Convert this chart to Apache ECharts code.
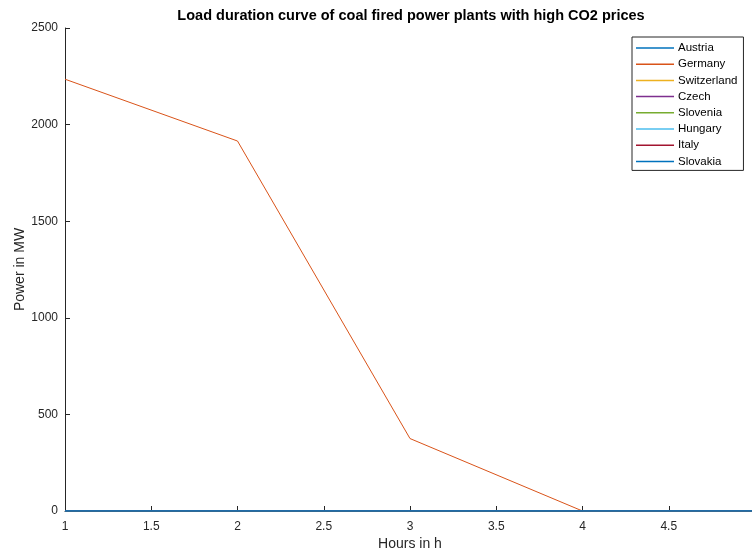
<!DOCTYPE html>
<html><head><meta charset="utf-8">
<script src="https://cdn.jsdelivr.net/npm/echarts@6/dist/echarts.min.js"></script>
<style>html,body{margin:0;padding:0;background:#fff}#c{width:752px;height:554px}</style>
</head><body><div id="c"></div>
<script>
const hours = [1, 2, 3, 4, 5];
const countries = ['Austria','Germany','Switzerland','Czech','Slovenia','Hungary','Italy','Slovakia'];
const austria = [0, 0, 0, 0, 0];
const germany = [2235, 1915, 375, 0, 0];
const switzerland = [0, 0, 0, 0, 0];
const czech = [0, 0, 0, 0, 0];
const slovenia = [0, 0, 0, 0, 0];
const hungary = [0, 0, 0, 0, 0];
const italy = [0, 0, 0, 0, 0];
const slovakia = [0, 0, 0, 0, 0];
const values = [austria, germany, switzerland, czech, slovenia, hungary, italy, slovakia];
const xTicks = [1, 1.5, 2, 2.5, 3, 3.5, 4, 4.5, 5];
const yTicks = [0, 500, 1000, 1500, 2000, 2500];
const colors = ['#0072BD','#D95319','#EDB120','#7E2F8E','#77AC30','#4DBEEE','#A2142F','#0072BD'];

const font = '"Liberation Sans", Arial, Helvetica, sans-serif';
const chart = echarts.init(document.getElementById('c'), null, {renderer:'canvas'});
chart.setOption({
  backgroundColor: '#fff',
  animation: false,
  color: colors,
  title: {
    text: 'Load duration curve of coal fired power plants with high CO2 prices',
    left: 406, top: 3, textAlign: 'center',
    textStyle: {fontFamily: font, fontSize: 14.5, fontWeight: 'bold', color: '#000'}
  },
  grid: {left: 65, top: 28, width: 690, bottom: 43, containLabel: false, outerBoundsMode: 'none'},
  legend: {
    data: countries.map(n => ({name: n, icon: 'path://M0,0 L76,0 L76,3 L0,3 Z'})),
    orient: 'vertical', left: 632, top: 37,
    padding: [5, 6, 3, 4], itemGap: 4.2, itemWidth: 38, itemHeight: 12,
    borderColor: '#262626', borderWidth: 1, backgroundColor: '#fff',
    textStyle: {fontFamily: font, fontSize: 11.5, color: '#000', padding: [0,0,0,-1]}
  },
  xAxis: {
    type: 'value', min: hours[0], max: hours[hours.length-1], interval: 0.5,
    name: 'Hours in h', nameLocation: 'middle', nameGap: 26, nameMoveOverlap: false,
    nameTextStyle: {fontFamily: font, fontSize: 14, color: '#262626'},
    axisLine: {lineStyle: {color: '#262626', width: 1}},
    axisTick: {inside: true, length: 5, lineStyle: {color: '#262626'}},
    axisLabel: {fontFamily: font, fontSize: 12, color: '#262626', margin: 10,
      formatter: v => xTicks.includes(v) ? String(v) : ''},
    splitLine: {show: false}
  },
  yAxis: {
    type: 'value', min: yTicks[0], max: yTicks[yTicks.length-1], interval: 500,
    name: 'Power in MW', nameLocation: 'middle', nameGap: 38, nameMoveOverlap: false,
    nameTextStyle: {fontFamily: font, fontSize: 14, color: '#262626'},
    axisLine: {show: true, lineStyle: {color: '#262626', width: 1}},
    axisTick: {show: true, inside: true, length: 5, lineStyle: {color: '#262626'}},
    axisLabel: {fontFamily: font, fontSize: 12, color: '#262626', margin: 7,
      formatter: v => String(v)},
    splitLine: {show: false}
  },
  series: countries.map((name, i) => ({
    name, type: 'line', symbol: 'none', data: hours.map((h, j) => [h, values[i][j]]),
    lineStyle: {width: i === 7 ? 1.5 : 1, color: colors[i]}, itemStyle: {color: colors[i]}
  }))
});
</script></body></html>
